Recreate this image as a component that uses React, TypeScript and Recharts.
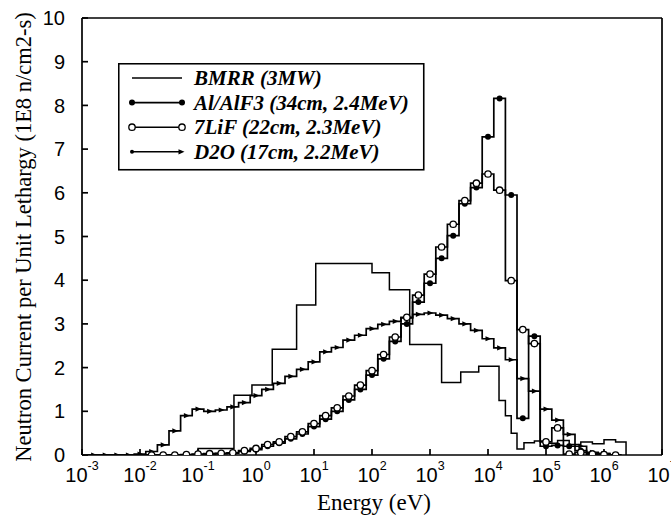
import React from 'react';
import { ComposedChart, Line, Scatter, XAxis, YAxis, Legend } from 'recharts';

// bin centres, log10(E/eV), 5 groups per decade
const LOG_E_CENTERS = [
  -2.8, -2.6, -2.4, -2.2, -2.0, -1.8, -1.6, -1.4, -1.2, -1.0,
  -0.8, -0.6, -0.4, -0.2, 0.0, 0.2, 0.4, 0.6, 0.8, 1.0,
  1.2, 1.4, 1.6, 1.8, 2.0, 2.2, 2.4, 2.6, 2.8, 3.0,
  3.2, 3.4, 3.6, 3.8, 4.0, 4.2, 4.4, 4.6, 4.8, 5.0,
  5.2, 5.4, 5.6, 5.8, 6.0, 6.2,
];
const HALF_BIN = 0.1;

const D2O_FLUX = [
  0, 0, 0, 0, 0.02, 0.08, 0.23, 0.55, 0.9, 1.05,
  1.0, 1.03, 1.1, 1.2, 1.36, 1.5, 1.64, 1.8, 1.96, 2.13,
  2.36, 2.46, 2.63, 2.74, 2.89, 2.99, 3.06, 3.14, 3.22, 3.25,
  3.2, 3.12, 3.0, 2.85, 2.66, 2.45, 2.18, 1.75, 1.46, 1.05,
  0.8, 0.47, 0.2, 0.06, 0.03, 0,
];
const AL_FLUX = [
  null, null, null, null, null, 0, 0, 0, 0, 0.01,
  0.02, 0.03, 0.04, 0.08, 0.12, 0.2, 0.27, 0.37, 0.48, 0.65,
  0.82, 1.0, 1.26, 1.5, 1.83, 2.2, 2.6, 3.0, 3.5, 3.93,
  4.5, 5.02, 5.75, 6.12, 7.28, 8.16, 5.95, 0.84, 2.72, 0.2,
  0.22, 0.2, 0.1, 0.04, 0.03, 0,
];
const LIF_FLUX = [
  null, null, null, null, null, 0, 0, 0, 0.01, 0.02,
  0.03, 0.04, 0.05, 0.1, 0.15, 0.24, 0.3, 0.42, 0.53, 0.72,
  0.9, 1.08, 1.35, 1.6, 1.93, 2.3, 2.7, 3.15, 3.66, 4.14,
  4.76, 5.28, 5.82, 6.22, 6.43, 6.06, 3.99, 2.87, 2.55, 0.3,
  0.62, 0.02, 0.06, 0.02, 0.01, 0,
];

// BMRR uses its own coarser group structure
const BMRR_LOG_EDGES = [
  -2.9, -1.0, -0.38, -0.07, 0.28, 0.7, 1.03, 2.0, 2.3, 2.65,
  3.2, 3.53, 3.84, 4.19, 4.3, 4.4, 4.5, 4.62, 4.8, 5.0,
  5.2, 5.4, 5.6, 5.8, 6.0, 6.2, 6.38,
];
const BMRR_FLUX = [
  0, 0.15, 1.37, 1.6, 2.42, 3.43, 4.38, 4.17, 3.78, 2.53,
  1.66, 1.9, 2.03, 1.25, 0.9, 0.5, 0.14, 0.28, 0.32, 0.27,
  0.33, 0.24, 0.3, 0.26, 0.35, 0.3,
];

const SERIES_NAMES = [
  'BMRR (3MW)',
  'Al/AlF3 (34cm, 2.4MeV)',
  '7LiF (22cm, 2.3MeV)',
  'D2O (17cm, 2.2MeV)',
];

const X_TICK_EXPONENTS = [-3, -2, -1, 0, 1, 2, 3, 4, 5, 6, 7];
const Y_TICKS = [0, 1, 2, 3, 4, 5, 6, 7, 8, 9, 10];

const SERIF = '"Liberation Serif", "Times New Roman", serif';
const SANS = '"Liberation Sans", Arial, Helvetica, sans-serif';

type Pt = { x: number; y: number };

function groupSteps(values: (number | null)[]): Pt[] {
  const pts: Pt[] = [];
  let last: number | null = null;
  LOG_E_CENTERS.forEach((c, i) => {
    const v = values[i];
    if (v == null) return;
    pts.push({ x: 10 ** (c - HALF_BIN), y: v });
    last = c;
  });
  if (last !== null) pts.push({ x: 10 ** ((last as number) + HALF_BIN), y: 0 });
  return pts;
}

function groupMarkers(values: (number | null)[]): Pt[] {
  const pts: Pt[] = [];
  LOG_E_CENTERS.forEach((c, i) => {
    const v = values[i];
    if (v != null) pts.push({ x: 10 ** c, y: v });
  });
  return pts;
}

const bmrrSteps: Pt[] = [
  ...BMRR_FLUX.map((v, i) => ({ x: 10 ** BMRR_LOG_EDGES[i], y: v })),
  { x: 10 ** BMRR_LOG_EDGES[BMRR_LOG_EDGES.length - 1], y: 0 },
];

const d2oSteps = groupSteps(D2O_FLUX);
const alSteps = groupSteps(AL_FLUX);
const lifSteps = groupSteps(LIF_FLUX);
const d2oMarks = groupMarkers(D2O_FLUX);
const alMarks = groupMarkers(AL_FLUX);
const lifMarks = groupMarkers(LIF_FLUX);

const FilledDot = ({ cx, cy }: any) => <circle cx={cx} cy={cy} r={3} fill="#000" />;
const OpenDot = ({ cx, cy }: any) => (
  <circle cx={cx} cy={cy} r={3.2} fill="#fff" stroke="#000" strokeWidth={1.3} />
);
const TriRight = ({ cx, cy }: any) => (
  <path d={`M${cx + 3.5},${cy} L${cx - 2.5},${cy - 2.6} L${cx - 2.5},${cy + 2.6} Z`} fill="#000" />
);

const PowerTick = ({ x, y, payload }: any) => {
  const exp = Math.round(Math.log10(payload.value));
  return (
    <text x={x} y={y} textAnchor="middle" fontFamily={SANS} fontSize={20} fill="#000">
      10
      <tspan dy={-12} fontSize={12.5}>
        {exp}
      </tspan>
    </text>
  );
};

const YTitle = () => (
  <text
    x={31}
    y={237}
    transform="rotate(-90 31 237)"
    textAnchor="middle"
    fontFamily={SERIF}
    fontSize={22.5}
    fill="#000"
  >
    Neutron Current per Unit Lethargy (1E8 n/cm2-s)
  </text>
);

const XTitle = () => (
  <text x={374} y={510} textAnchor="middle" fontFamily={SERIF} fontSize={23} fill="#000">
    Energy (eV)
  </text>
);

const LegendBox = () => (
  <svg width={307} height={108}>
    <rect x={0.75} y={0.75} width={305} height={106} fill="#fff" stroke="#000" strokeWidth={1.6} />
    {SERIES_NAMES.map((name, i) => {
      const cy = 15 + i * 24.6;
      return (
        <g key={name}>
          <line x1={14} x2={64} y1={cy} y2={cy} stroke="#000" strokeWidth={1.6} />
          {i === 1 && (
            <>
              <FilledDot cx={14} cy={cy} />
              <FilledDot cx={64} cy={cy} />
            </>
          )}
          {i === 2 && (
            <>
              <OpenDot cx={14} cy={cy} />
              <OpenDot cx={64} cy={cy} />
            </>
          )}
          {i === 3 && (
            <>
              <circle cx={14} cy={cy} r={2} fill="#000" />
              <TriRight cx={63} cy={cy} />
            </>
          )}
          <text
            x={76}
            y={cy + 7}
            fontFamily={SERIF}
            fontStyle="italic"
            fontWeight="bold"
            fontSize={21}
            fill="#000"
          >
            {name}
          </text>
        </g>
      );
    })}
  </svg>
);

export default function App() {
  const xTicks = X_TICK_EXPONENTS.map((e) => 10 ** e);
  const axisStroke = { stroke: '#000', strokeWidth: 1.7 };
  return (
    <div style={{ position: 'absolute', left: 0, top: 0, width: 671, height: 518, background: '#fff' }}>
      <ComposedChart width={671} height={518} margin={{ top: 17, right: 8, bottom: 23, left: 22 }}>
        <XAxis
          dataKey="x"
          type="number"
          scale="log"
          domain={[1e-3, 1e7]}
          allowDataOverflow
          ticks={xTicks}
          interval={0}
          height={40}
          tickSize={-6}
          tickMargin={33}
          axisLine={axisStroke}
          tickLine={axisStroke}
          tick={<PowerTick />}
          label={<XTitle />}
        />
        <XAxis
          xAxisId="top"
          orientation="top"
          dataKey="x"
          type="number"
          scale="log"
          domain={[1e-3, 1e7]}
          allowDataOverflow
          ticks={xTicks}
          interval={0}
          height={1}
          tickSize={-6}
          axisLine={axisStroke}
          tickLine={axisStroke}
          tick={false}
        />
        <YAxis
          type="number"
          domain={[0, 10]}
          allowDataOverflow
          ticks={Y_TICKS}
          interval={0}
          width={60}
          tickSize={-6}
          tickMargin={23}
          axisLine={axisStroke}
          tickLine={axisStroke}
          tick={{ fontFamily: SANS, fontSize: 20, fill: '#000' }}
          label={<YTitle />}
        />
        <YAxis
          yAxisId="right"
          orientation="right"
          type="number"
          domain={[0, 10]}
          ticks={Y_TICKS}
          interval={0}
          width={1}
          tickSize={-6}
          axisLine={axisStroke}
          tickLine={axisStroke}
          tick={false}
        />
        <Legend
          layout="horizontal"
          verticalAlign="middle"
          align="center"
          wrapperStyle={{ left: 118, top: 63, width: 307, height: 108 }}
          content={<LegendBox />}
        />
        <Line data={bmrrSteps} dataKey="y" type="stepAfter" stroke="#000" strokeWidth={1.5} dot={false} isAnimationActive={false} />
        <Line data={d2oSteps} dataKey="y" type="stepAfter" stroke="#000" strokeWidth={1.7} dot={false} isAnimationActive={false} />
        <Line data={alSteps} dataKey="y" type="stepAfter" stroke="#000" strokeWidth={1.7} dot={false} isAnimationActive={false} />
        <Line data={lifSteps} dataKey="y" type="stepAfter" stroke="#000" strokeWidth={1.7} dot={false} isAnimationActive={false} />
        <Scatter data={d2oMarks} dataKey="y" shape={<TriRight />} isAnimationActive={false} />
        <Scatter data={alMarks} dataKey="y" shape={<FilledDot />} isAnimationActive={false} />
        <Scatter data={lifMarks} dataKey="y" shape={<OpenDot />} isAnimationActive={false} />
      </ComposedChart>
    </div>
  );
}
